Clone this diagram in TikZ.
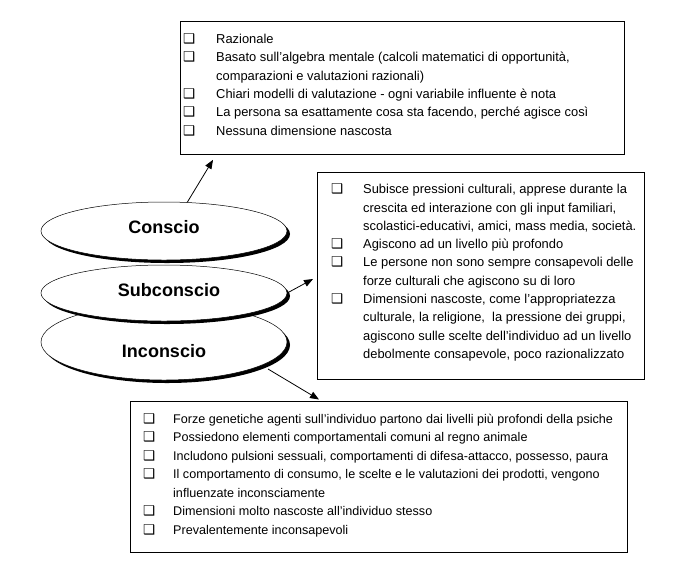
\documentclass[tikz,border=0pt]{standalone}
\usepackage{fontspec}
\setmainfont{Liberation Sans}
\newfontfamily\dejavu{DejaVu Sans}
\usetikzlibrary{shapes.geometric,arrows.meta,shadows}
\newcommand\bul{{\dejavu\fontsize{13.5}{13.5}\selectfont ❑}}
\newcommand\itm[1]{\makebox[#1][l]{\bul}}
\newcommand\fst{\rule{0pt}{12pt}}
\begin{document}
\begin{tikzpicture}[x=1pt,y=-1pt,
 box/.style={draw, line width=0.8pt, inner sep=0, anchor=north west},
 txt/.style={anchor=north west, inner sep=0, align=left, font=\fontsize{12.9}{18.4}\selectfont},
 ell/.style={ellipse, draw, line width=0.5pt, fill=white, inner sep=0, minimum width=246pt,
   general shadow={fill=black, shadow xshift=3pt, shadow yshift=-3pt}},
 lab/.style={font=\bfseries\fontsize{18}{18}\selectfont, inner sep=0},
 arr/.style={-{Triangle[length=9pt,width=7pt]}, line width=0.8pt}]
\useasboundingbox (0,0) rectangle (699,566);
% boxes
\node[box, minimum width=444pt, minimum height=133pt] (b1) at (180,21) {};
\node[box, minimum width=327pt, minimum height=207pt] (b2) at (317,172) {};
\node[box, minimum width=497pt, minimum height=151pt] (b3) at (130,401) {};
% texts
\node[txt] (t1) at (183,31) {%
\itm{33pt}\fst Razionale\\
\itm{33pt}Basato sull’algebra mentale (calcoli matematici di opportunità,\\
\hspace*{33pt}comparazioni e valutazioni razionali)\\
\itm{33pt}Chiari modelli di valutazione - ogni variabile influente è nota\\
\itm{33pt}La persona sa esattamente cosa sta facendo, perché agisce così\\
\itm{33pt}Nessuna dimensione nascosta};
\node[txt, font=\fontsize{12.9}{18.3}\selectfont] (t2) at (331,181.5) {%
\itm{32pt}\fst Subisce pressioni culturali, apprese durante la\\
\hspace*{32pt}crescita ed interazione con gli input familiari,\\
\hspace*{32pt}scolastici-educativi, amici, mass media, società.\\
\itm{32pt}Agiscono ad un livello più profondo\\
\itm{32pt}Le persone non sono sempre consapevoli delle\\
\hspace*{32pt}forze culturali che agiscono su di loro\\
\itm{32pt}Dimensioni nascoste, come l’appropriatezza\\
\hspace*{32pt}culturale, la religione,\ \ la pressione dei gruppi,\\
\hspace*{32pt}agiscono sulle scelte dell’individuo ad un livello\\
\hspace*{32pt}debolmente consapevole, poco razionalizzato};
\node[txt, font=\fontsize{12.6}{18.45}\selectfont] (t3) at (143,411.3) {%
\itm{30pt}\fst Forze genetiche agenti sull’individuo partono dai livelli più profondi della psiche\\
\itm{30pt}Possiedono elementi comportamentali comuni al regno animale\\
\itm{30pt}Includono pulsioni sessuali, comportamenti di difesa-attacco, possesso, paura\\
\itm{30pt}Il comportamento di consumo, le scelte e le valutazioni dei prodotti, vengono\\
\hspace*{30pt}influenzate inconsciamente\\
\itm{30pt}Dimensioni molto nascoste all’individuo stesso\\
\itm{30pt}Prevalentemente inconsapevoli};
% ellipses
\node[ell, minimum height=76pt] (i) at (164,342) {};
\node[ell, minimum height=56pt] (s) at (164,293) {};
\node[ell, minimum height=58pt] (c) at (164,231) {};
\node[lab] (cl) at (164,227) {Conscio};
\node[lab] (sl) at (169,290) {Subconscio};
\node[lab] (il) at (164,351) {Inconscio};
% arrows
\draw[arr] (c.51) -- ([shift={(33,5)}]b1.south west);
\draw[arr] (s.east) -- ([shift={(-4,107)}]b2.north west);
\draw[arr] ([shift={(104,27)}]i.center) -- ([shift={(189,-1.5)}]b3.north west);
\end{tikzpicture}
\end{document}
